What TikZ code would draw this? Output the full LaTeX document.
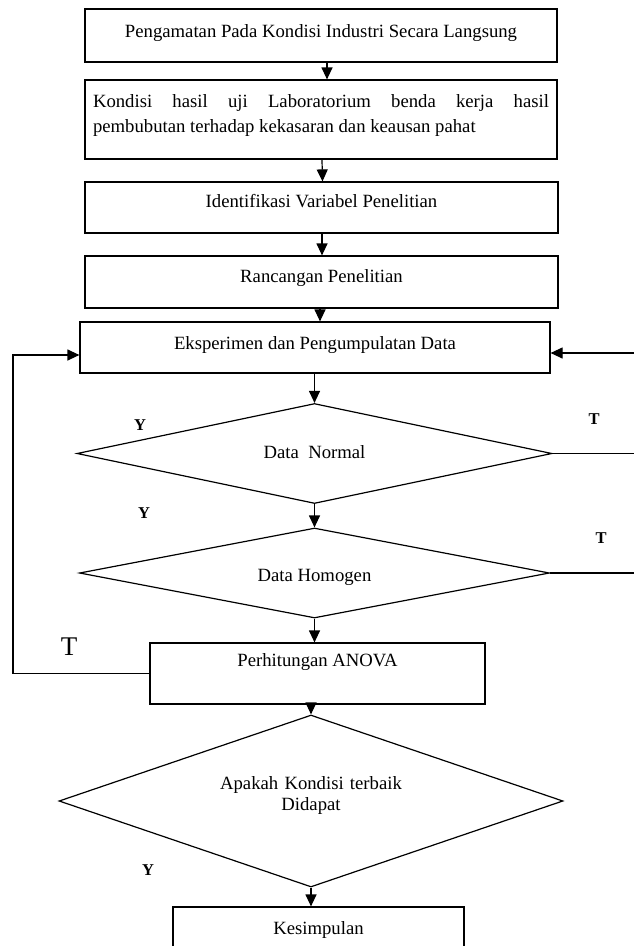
\documentclass[tikz,border=0pt]{standalone}
\usepackage{fontspec}
\setmainfont{Liberation Serif}
\usetikzlibrary{shapes.geometric,arrows.meta}
\begin{document}
\begin{tikzpicture}[x=1pt,y=-1pt,
  line width=1.2pt,
  txt/.style={font=\fontsize{18.7}{25}\selectfont},
  stepbox/.style={draw, txt, inner sep=0pt, text height=13pt, text depth=4pt},
  decision/.style={draw, diamond, txt, inner sep=0pt, text height=13pt, text depth=4pt},
  arr/.style={-{Triangle[length=12pt,width=11pt]}},
  yn/.style={font=\fontsize{16.5}{16.5}\selectfont\bfseries, inner sep=0pt},
  bigt/.style={font=\fontsize{27}{27}\selectfont, inner sep=0pt}]
\useasboundingbox (0,0) rectangle (634,946);
\fill[white] (0,0) rectangle (634,946);

\node[stepbox, minimum width=472pt, minimum height=53pt, text depth=9pt] (b1) at (321,35.5) {Pengamatan Pada Kondisi Industri Secara Langsung};
\node[draw, txt, inner sep=0pt, minimum width=472pt, minimum height=79pt, text width=456pt, align=justify] (b2) at (321,119.5) {Kondisi hasil uji Laboratorium benda kerja hasil\linebreak pembubutan terhadap kekasaran dan keausan pahat\rule[-11pt]{0pt}{1pt}};
\node[stepbox, minimum width=473pt, minimum height=51pt, text depth=13pt] (b3) at (321.5,207.5) {Identifikasi Variabel Penelitian};
\node[stepbox, minimum width=473pt, minimum height=52pt, text depth=12pt] (b4) at (321.5,282) {Rancangan Penelitian};
\node[stepbox, minimum width=470pt, minimum height=51pt, text depth=9pt] (b5) at (315,347.5) {Eksperimen dan Pengumpulatan Data};
\node[decision, minimum width=475pt, minimum height=100pt, aspect=4.75] (d1) at (314.5,453.5) {Data~~Normal};
\node[decision, minimum width=470pt, minimum height=90pt, aspect=5.2, text height=21pt] (d2) at (314.5,573) {Data Homogen};
\node[stepbox, minimum width=335pt, minimum height=61pt, text depth=27pt] (an) at (317.5,673.5) {Perhitungan ANOVA};
\node[draw, diamond, font=\fontsize{18.7}{21}\selectfont, inner sep=0pt, minimum width=504pt, minimum height=172pt, aspect=2.93, text width=250pt, align=center] (d3) at (311,801) {Apakah Kondisi terbaik\\Didapat\rule[-14pt]{0pt}{1pt}};
\node[stepbox, minimum width=291pt, minimum height=46pt] (ks) at (318.5,930) {Kesimpulan};

\draw[arr] ([xshift=6pt]b1.south) -- ([xshift=6pt]b2.north);
\draw[arr] ([xshift=1pt]b2.south) -- ([xshift=1pt]b3.north);
\draw[arr] ([xshift=0.5pt]b3.south) -- ([xshift=0.5pt]b4.north);
\draw[arr] ([xshift=-1.5pt]b4.south) -- ([xshift=5pt]b5.north);
\draw[arr] ([xshift=-0.5pt]b5.south) -- (d1.north);
\draw[arr] (d1.south) -- (d2.north);
\draw[arr] (d2.south) -- ([xshift=-3pt]an.north);
\draw[arr] ([xshift=-6.5pt]an.south) -- (d3.north);
\draw[arr] (d3.south) -- ([xshift=-7.5pt]ks.north);

\coordinate (lx) at (13,0);
\coordinate (rx) at (640,0);
\coordinate (e5l) at ([yshift=-7.5pt]b5.west);
\coordinate (e5r) at ([yshift=-5.5pt]b5.east);
\draw[arr] (an.west) -- (an.west -| lx) -- (e5l -| lx) -- (e5l);
\draw (d1.east) -- (d1.east -| rx);
\draw[arr] (d2.east) -- (d2.east -| rx) -- (e5r -| rx) -- (e5r);

\node[yn] (y1) at (140,425) {Y};
\node[yn] (t1) at (594,419) {T};
\node[yn] (y2) at (144,513) {Y};
\node[yn] (t2) at (601,538) {T};
\node[bigt] (t3) at (69,647) {T};
\node[yn] (y3) at (148,870) {Y};
\end{tikzpicture}
\end{document}
